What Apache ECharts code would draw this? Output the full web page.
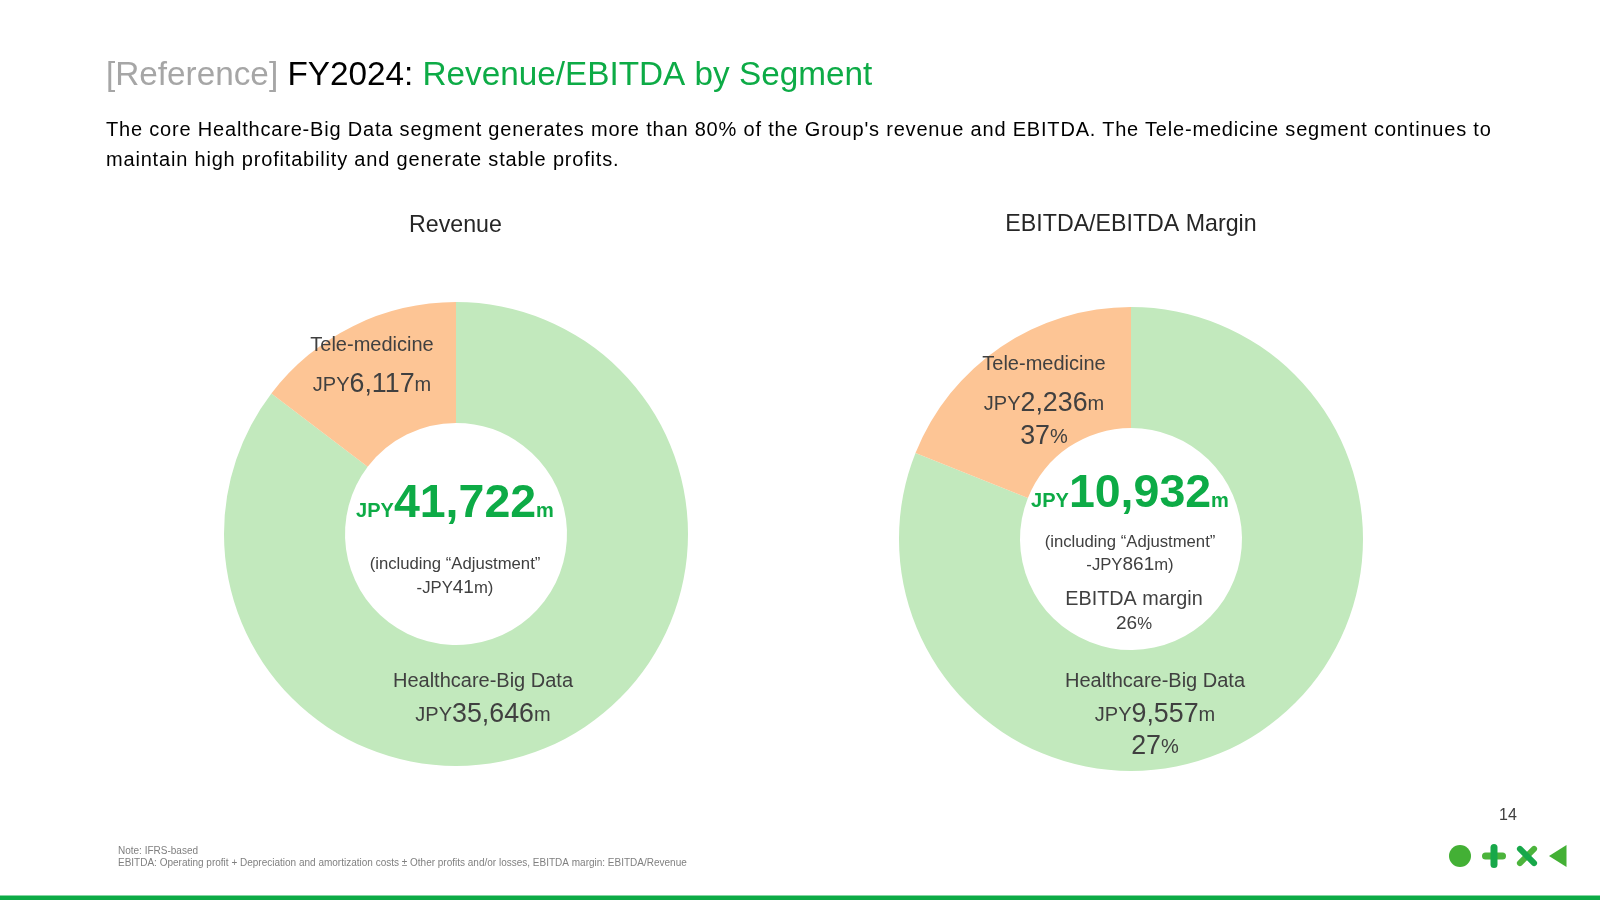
<!DOCTYPE html>
<html lang="en">
<head>
<meta charset="UTF-8"/>
<title>FY2024 Revenue/EBITDA by Segment</title>
<style>
html,body{margin:0;padding:0;background:#fff;}
#wrap{position:relative;width:1600px;height:900px;}
#chart{width:1600px;height:900px;}
#lead{position:absolute;left:106px;top:114px;margin:0;white-space:nowrap;
      font:20px/30px "Liberation Sans", Arial, sans-serif;letter-spacing:0.81px;color:#000;}
</style>
</head>
<body>
<div id="wrap">
<div id="chart"></div>
<p id="lead">The core Healthcare-Big Data segment generates more than 80% of the Group's revenue and EBITDA. The Tele-medicine segment continues to<br>maintain high profitability and generate stable profits.</p>
</div>
<script src="https://cdn.jsdelivr.net/npm/echarts@6/dist/echarts.min.js"></script>
<script>
// data
var segments = ['Healthcare-Big Data', 'Tele-medicine'];
var segmentColors = ['#C2E9BD', '#FDC595'];
var revenueValues = [35646, 6117];
var ebitdaValues = [9557, 2236];
var ebitdaMargins = [27, 37];
var revenueTotal = 41722;
var revenueAdjustment = 41;
var ebitdaTotal = 10932;
var ebitdaAdjustment = 861;
var ebitdaMarginTotal = 26;

var FONT = '"Liberation Sans", Arial, sans-serif';
var GREEN = '#0DAB46';
var DARK = '#404040';

function num(v) { return v.toLocaleString('en-US'); }

// one block of text, centered on x,y
function txt(x, y, text, size, color, extra) {
    var style = {
        x: x, y: y, text: text, align: 'center', verticalAlign: 'middle',
        fontFamily: FONT, fontSize: size, fill: color || DARK
    };
    for (var k in extra) style[k] = extra[k];
    return {type: 'text', silent: true, z: 10, style: style};
}
function left(x, y, text, size, color) {
    return txt(x, y, text, size, color, {align: 'left'});
}
// JPY + number + m with the smaller unit text, units sit on the digits' baseline
var moneyRich = {
    u: {fontFamily: FONT, fontSize: 20, fill: '#404040', verticalAlign: 'bottom', height: 33},
    n: {fontFamily: FONT, fontSize: 26.8, fill: '#404040', lineHeight: 32}
};
function money(x, y, v) {
    return txt(x, y, '{u|JPY}{n|' + num(v) + '}{u|m}', 20, DARK, {rich: moneyRich});
}
function pct(x, y, v) {
    return txt(x, y, '{n|' + v + '}{u|%}', 20, DARK, {rich: moneyRich});
}
var bigRich = {
    u: {fontFamily: FONT, fontSize: 20, fontWeight: 'bold', fill: GREEN, verticalAlign: 'bottom', height: 36},
    n: {fontFamily: FONT, fontSize: 46.5, fontWeight: 'bold', fill: GREEN, lineHeight: 50}
};
function big(x, y, v) {
    return txt(x, y, '{u|JPY}{n|' + num(v) + '}{u|m}', 20, GREEN, {rich: bigRich});
}
var smallRich = {
    u: {fontFamily: FONT, fontSize: 16.7, fill: '#404040', verticalAlign: 'bottom', height: 22},
    n: {fontFamily: FONT, fontSize: 19, fill: '#404040', lineHeight: 22}
};
function adj(x, y, v) {
    return txt(x, y, '{u|-JPY}{n|' + v + '}{u|m)}', 17, DARK, {rich: smallRich});
}

function donut(center, values) {
    return {
        type: 'pie',
        center: center,
        radius: [111, 232],
        startAngle: 90,
        clockwise: true,
        silent: true,
        label: {show: false},
        labelLine: {show: false},
        data: values.map(function (v, i) {
            return {name: segments[i], value: v, itemStyle: {color: segmentColors[i]}};
        })
    };
}

var titleRich = {
    g: {fontFamily: FONT, fontSize: 33.3, fill: '#A6A6A6'},
    k: {fontFamily: FONT, fontSize: 33.3, fill: '#000000'},
    c: {fontFamily: FONT, fontSize: 33.3, fill: GREEN}
};

var graphics = [
    left(106, 76, '{g|[Reference] }{k|FY2024: }{c|Revenue/EBITDA by Segment}', 33, '#000'),
    txt(455.5, 226, 'Revenue', 23.2, '#262626'),
    txt(1131, 225, 'EBITDA/EBITDA Margin', 23.2, '#262626'),

    // revenue donut labels
    txt(372, 345, segments[1], 20),
    money(372, 385, revenueValues[1]),
    txt(483, 681, segments[0], 20),
    money(483, 715, revenueValues[0]),
    big(455, 504, revenueTotal),
    txt(455, 564, '(including \u201CAdjustment\u201D', 16.7),
    adj(455, 588, revenueAdjustment),

    // ebitda donut labels
    txt(1044, 364, segments[1], 20),
    money(1044, 404, ebitdaValues[1]),
    pct(1044, 437, ebitdaMargins[1]),
    big(1130, 494, ebitdaTotal),
    txt(1130, 542, '(including \u201CAdjustment\u201D', 16.7),
    adj(1130, 565, ebitdaAdjustment),
    txt(1134, 600, 'EBITDA margin', 19.8),
    txt(1134, 624, '{n|' + ebitdaMarginTotal + '}{u|%}', 18, DARK, {rich: smallRich}),
    txt(1155, 681, segments[0], 20),
    money(1155, 715, ebitdaValues[0]),
    pct(1155, 747, ebitdaMargins[0]),

    // footer
    txt(1508, 816, '14', 16, '#404040'),
    left(118, 851, 'Note: IFRS-based', 10, '#808080'),
    left(118, 863, 'EBITDA: Operating profit + Depreciation and amortization costs \u00B1 Other profits and/or losses, EBITDA margin: EBITDA/Revenue', 10, '#808080'),
    {type: 'rect', silent: true, shape: {x: 0, y: 895.5, width: 1600, height: 4.5}, style: {fill: '#0DAB46'}},

    // logo marks
    {type: 'circle', silent: true, shape: {cx: 1460, cy: 856, r: 11}, style: {fill: '#43B035'}},
    {type: 'rect', silent: true, shape: {x: 1482, y: 852.5, width: 24, height: 7, r: 3.5}, style: {fill: '#4CB43C'}},
    {type: 'rect', silent: true, shape: {x: 1490.5, y: 844, width: 7, height: 24, r: 3.5}, style: {fill: '#18A84A'}},
    {type: 'rect', silent: true, x: 1527, y: 856, rotation: Math.PI / 4, shape: {x: -13, y: -3, width: 26, height: 6, r: 3}, style: {fill: '#4CB43C'}},
    {type: 'rect', silent: true, x: 1527, y: 856, rotation: -Math.PI / 4, shape: {x: -13, y: -3, width: 26, height: 6, r: 3}, style: {fill: '#18A84A'}},
    {type: 'polygon', silent: true, shape: {points: [[1549, 856], [1566.5, 845], [1566.5, 867]]}, style: {fill: '#43B035'}}
];
graphics[0].style.rich = titleRich;

var myChart = echarts.init(document.getElementById('chart'), null, {renderer: 'canvas'});
myChart.setOption({
    animation: false,
    backgroundColor: '#fff',
    series: [donut([456, 534], revenueValues), donut([1131, 539], ebitdaValues)],
    graphic: graphics
});
</script>
</body>
</html>
